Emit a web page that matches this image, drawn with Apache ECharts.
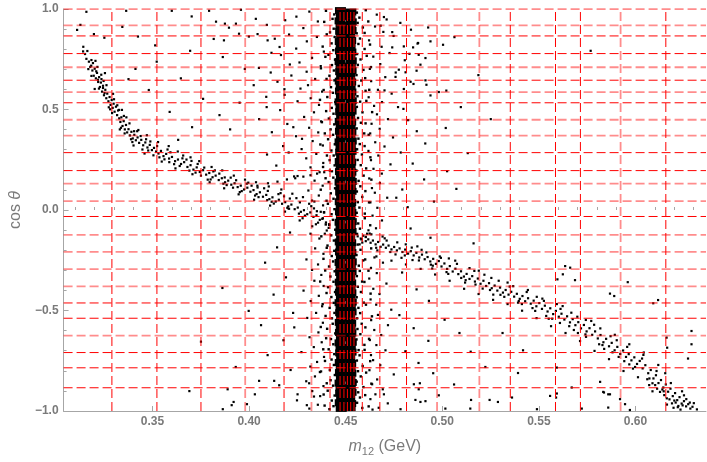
<!DOCTYPE html>
<html><head><meta charset="utf-8">
<script src="https://cdn.jsdelivr.net/npm/echarts@6/dist/echarts.min.js"></script>
<style>html,body{margin:0;padding:0;background:#fff}#c{width:707px;height:462px}</style>
</head><body><div id="c"></div>
<script>
// ---- tick labels ----
const xMajorTicks = [0.35, 0.40, 0.45, 0.50, 0.55, 0.60];
const xMinorTicks = [0.31,0.32,0.33,0.34,0.36,0.37,0.38,0.39,0.41,0.42,0.43,0.44,0.46,0.47,0.48,0.49,0.51,0.52,0.53,0.54,0.56,0.57,0.58,0.59,0.61,0.62,0.63];
const yTicks = [-1.0, -0.5, 0.0, 0.5, 1.0];

// ---- dashed reference lines (data units) ----
const hLinesStrong = [0.8660, 0.7782, 0.6457, 0.5335, 0.2854, 0.1960, -0.0323, -0.4625, -0.5385, -0.7092, -0.7851, -0.8844];
const hLinesLight  = [0.999, 0.9186, 0.7102, 0.5861, 0.4491, 0.3697, 0.1315, 0.0437, -0.1236, -0.2079, -0.2938, -0.3797, -0.6248];
const vLinesStrong = [0.3290, 0.3523, 0.3751, 0.4181, 0.4419, 0.4471, 0.4491, 0.4509, 0.4526, 0.4543, 0.4586, 0.4677, 0.4815, 0.5352, 0.5586, 0.5715, 0.6157];
const vLinesLight  = [0.3980, 0.4323, 0.4973, 0.5192, 0.5923];

// ---- dense core of the vertical band (m12 ~ 0.45) ----
const bandCore = [
[.4473,.992],[.4527,.985],[.4478,.963],[.4522,.968],[.4471,.941],[.4529,.936],[.4476,.914],[.4524,.919],
[.4474,.889],[.4528,.893],[.4479,.866],[.4521,.861],[.4472,.838],[.4526,.843],[.4477,.817],[.4523,.812],
[.4473,.791],[.4527,.786],[.4478,.764],[.4522,.769],[.4471,.739],[.4529,.742],[.4476,.716],[.4524,.711],
[.4474,.688],[.4528,.693],[.4479,.667],[.4521,.662],[.4472,.641],[.4526,.637],[.4477,.613],[.4523,.618],
[.4473,.592],[.4527,.587],[.4478,.564],[.4522,.568],[.4471,.538],[.4529,.543],[.4476,.516],[.4524,.512],
[.4474,.489],[.4528,.492],[.4479,.466],[.4521,.461],[.4472,.441],[.4526,.437],[.4477,.413],[.4523,.418],
[.4473,.392],[.4527,.388],[.4478,.364],[.4522,.367],[.4471,.339],[.4529,.343],[.4476,.316],[.4524,.312],
[.4474,.288],[.4528,.292],[.4479,.267],[.4521,.262],[.4472,.241],[.4526,.238],[.4477,.213],[.4523,.217],
[.4473,.191],[.4527,.188],[.4478,.164],[.4522,.168],[.4471,.139],[.4529,.142],[.4476,.116],[.4524,.112],
[.4474,.089],[.4528,.093],[.4479,.066],[.4521,.062],[.4472,.041],[.4526,.037],[.4477,.014],[.4523,.017],
[.4473,-.009],[.4527,-.012],[.4478,-.036],[.4522,-.033],[.4471,-.061],[.4529,-.058],[.4476,-.084],[.4524,-.088],
[.4474,-.111],[.4528,-.107],[.4479,-.134],[.4521,-.138],[.4472,-.159],[.4526,-.163],[.4477,-.187],[.4523,-.183],
[.4473,-.209],[.4527,-.212],[.4478,-.236],[.4522,-.233],[.4471,-.261],[.4529,-.258],[.4476,-.284],[.4524,-.288],
[.4474,-.311],[.4528,-.307],[.4479,-.334],[.4521,-.338],[.4472,-.359],[.4526,-.363],[.4477,-.387],[.4523,-.383],
[.4473,-.409],[.4527,-.412],[.4478,-.436],[.4522,-.433],[.4471,-.461],[.4529,-.458],[.4476,-.484],[.4524,-.488],
[.4474,-.511],[.4528,-.507],[.4479,-.534],[.4521,-.538],[.4472,-.559],[.4526,-.563],[.4477,-.587],[.4523,-.583],
[.4473,-.609],[.4527,-.612],[.4478,-.636],[.4522,-.633],[.4471,-.661],[.4529,-.658],[.4476,-.684],[.4524,-.688],
[.4474,-.711],[.4528,-.707],[.4479,-.734],[.4521,-.738],[.4472,-.759],[.4526,-.763],[.4477,-.787],[.4523,-.783],
[.4473,-.809],[.4527,-.812],[.4478,-.836],[.4522,-.833],[.4471,-.861],[.4529,-.858],[.4476,-.884],[.4524,-.888],
[.4474,-.911],[.4528,-.907],[.4479,-.934],[.4521,-.938],[.4472,-.959],[.4526,-.963],[.4477,-.987],[.4523,-.983]
];

// ---- halo around the band ----
const bandHalo = [
[.4441,.973],[.4432,.951],[.4438,.902],[.4419,.884],[.4443,.861],[.4427,.829],[.4436,.795],[.4411,.772],[.4445,.748],[.4429,.721],
[.4439,.694],[.4416,.668],[.4442,.645],[.4424,.611],[.4434,.583],[.4405,.562],[.4446,.537],[.4428,.508],[.4437,.479],[.4413,.455],
[.4441,.426],[.4422,.401],[.4435,.374],[.4409,.352],[.4444,.327],[.4426,.296],[.4438,.271],[.4417,.248],[.4443,.222],[.4429,.193],
[.4436,.161],[.4412,.139],[.4445,.108],[.4423,.083],[.4437,.056],[.4408,.031],[.4442,.004],[.4427,-.021],[.4434,-.049],[.4415,-.074],
[.4446,-.098],[.4425,-.126],[.4439,-.152],[.4406,-.177],[.4441,-.203],[.4428,-.229],[.4435,-.256],[.4414,-.281],[.4443,-.305],[.4421,-.331],
[.4437,-.357],[.4409,-.384],[.4445,-.408],[.4426,-.433],[.4438,-.462],[.4417,-.487],[.4442,-.512],[.4429,-.539],[.4433,-.566],[.4404,-.591],
[.4446,-.614],[.4424,-.642],[.4436,-.668],[.4412,-.693],[.4441,-.717],[.4427,-.744],[.4439,-.771],[.4418,-.796],[.4444,-.821],[.4422,-.847],
[.4435,-.874],[.4407,-.899],[.4443,-.923],[.4428,-.948],[.4437,-.976],[.4416,-.991],
[.4558,.982],[.4571,.957],[.4562,.931],[.4589,.908],[.4557,.879],[.4574,.853],[.4566,.826],[.4598,.801],[.4559,.776],[.4577,.749],
[.4563,.722],[.4592,.697],[.4556,.671],[.4581,.644],[.4568,.617],[.4603,.593],[.4561,.566],[.4575,.539],[.4558,.513],[.4587,.486],
[.4564,.458],[.4579,.434],[.4557,.406],[.4596,.381],[.4566,.355],[.4573,.328],[.4559,.302],[.4584,.276],[.4562,.249],[.4578,.223],
[.4556,.196],[.4593,.171],[.4567,.145],[.4576,.118],[.4558,.092],[.4586,.065],[.4563,.039],[.4571,.012],[.4557,-.014],[.4599,-.041],
[.4565,-.067],[.4574,-.093],[.4559,-.119],[.4582,-.146],[.4562,-.172],[.4577,-.198],[.4556,-.224],[.4591,-.251],[.4568,-.277],[.4573,-.303],
[.4558,-.329],[.4585,-.356],[.4563,-.382],[.4579,-.408],[.4557,-.434],[.4594,-.461],[.4566,-.487],[.4575,-.513],[.4559,-.539],[.4583,-.566],
[.4561,-.592],[.4576,-.618],[.4556,-.644],[.4597,-.671],[.4567,-.697],[.4572,-.723],[.4558,-.749],[.4588,-.776],[.4564,-.802],[.4578,-.828],
[.4557,-.854],[.4592,-.881],[.4565,-.907],[.4574,-.933],[.4559,-.959],[.4586,-.985],
[.4398,.991],[.4389,.936],[.4402,.874],[.4381,.813],[.4395,.762],[.4372,.705],[.4401,.652],[.4386,.597],[.4367,.548],[.4399,.492],
[.4377,.437],[.4392,.381],[.4369,.326],[.4403,.271],[.4383,.214],[.4396,.158],[.4371,.101],[.4401,.046],[.4388,-.012],[.4397,-.072],
[.4374,-.131],[.4402,-.188],[.4385,-.243],[.4394,-.301],[.4368,-.356],[.4401,-.413],[.4381,-.468],[.4396,-.527],[.4371,-.582],[.4399,-.638],
[.4384,-.693],[.4393,-.751],[.4367,-.806],[.4402,-.862],[.4386,-.918],[.4391,-.973],
[.4604,.994],[.4617,.938],[.4598,.881],[.4626,.823],[.4609,.767],[.4631,.711],[.4601,.656],[.4622,.598],[.4607,.543],[.4637,.487],
[.4603,.431],[.4619,.374],[.4598,.318],[.4628,.262],[.4606,.207],[.4633,.151],[.4602,.094],[.4621,.038],[.4599,-.018],[.4627,-.076],
[.4604,-.134],[.4632,-.191],[.4601,-.246],[.4618,-.302],[.4597,-.358],[.4629,-.416],[.4605,-.471],[.4636,-.529],[.4602,-.584],[.4621,-.641],
[.4598,-.696],[.4627,-.752],[.4606,-.809],[.4633,-.864],[.4601,-.921],[.4619,-.977]
];

// ---- wider cloud around the band ----
const bandCloud = [
[.4312,.987],[.4245,.962],[.4187,.944],[.4356,.938],[.4092,.921],[.4281,.905],[.4661,.972],[.4712,.948],[.4783,.931],[.4652,.913],
[.4838,.897],[.4695,.886],[.4207,.873],[.4351,.861],[.4133,.852],[.4299,.839],[.4748,.866],[.4621,.844],[.4872,.828],[.4686,.812],
[.4244,.803],[.4387,.788],[.4165,.771],[.4326,.757],[.4727,.781],[.4643,.763],[.4806,.745],[.4261,.734],[.4371,.716],[.4051,.707],
[.4298,.688],[.4679,.726],[.4625,.702],[.4759,.684],[.4219,.669],[.4342,.652],[.4147,.638],[.4305,.621],[.4705,.661],[.4632,.641],
[.4851,.627],[.4266,.604],[.4378,.589],[.4184,.573],[.4319,.556],[.4667,.598],[.4738,.579],[.4619,.561],[.4251,.541],[.4362,.523],
[.4091,.512],[.4688,.537],[.4647,.518],[.4799,.503],
[.4336,.486],[.4285,.463],[.4373,.441],[.4198,.428],[.4662,.476],[.4719,.452],[.4634,.429],[.4311,.409],[.4358,.386],[.4243,.367],
[.4676,.404],[.4627,.381],[.4745,.361],[.4329,.343],[.4382,.321],[.4272,.303],[.4653,.337],[.4701,.316],[.4618,.294],[.4348,.279],
[.4296,.257],[.4384,.234],[.4669,.271],[.4631,.248],[.4732,.227],[.4318,.212],[.4365,.188],[.4251,.169],[.4644,.205],[.4687,.181],
[.4622,.157],[.4339,.146],[.4381,.121],[.4677,.134],[.4636,.109],[.4307,.097],[.4361,.072],[.4651,.086],[.4715,.061],[.4326,.047],
[.4383,.023],[.4628,.038],[.4664,.011],[.4351,-.006],[.4639,-.028],[.4688,-.052],[.4379,-.044],[.4318,-.118],[.4364,-.142],[.4657,-.091],
[.4624,-.117],[.4342,-.191],[.4385,-.218],[.4297,-.246],[.4649,-.236],[.4693,-.262],[.4631,-.288],[.4357,-.271],[.4326,-.298],[.4374,-.323],
[.4661,-.314],[.4622,-.341],[.4711,-.366],[.4338,-.352],[.4386,-.378],[.4282,-.401],[.4643,-.392],[.4675,-.418],[.4629,-.445],[.4361,-.427],
[.4319,-.453],[.4378,-.479],[.4658,-.471],[.4736,-.496],
[.4347,-.512],[.4301,-.537],[.4382,-.561],[.4234,-.584],[.4667,-.522],[.4632,-.548],[.4719,-.573],[.4359,-.609],[.4313,-.633],[.4376,-.658],
[.4648,-.597],[.4684,-.622],[.4625,-.647],[.4335,-.682],[.4271,-.707],[.4388,-.731],[.4659,-.672],[.4706,-.698],[.4631,-.722],[.4352,-.756],
[.4317,-.779],[.4373,-.803],[.4642,-.747],[.4679,-.772],[.4623,-.797],[.4749,-.818],[.4341,-.828],[.4296,-.852],[.4385,-.876],[.4663,-.843],
[.4637,-.867],[.4692,-.892],[.4327,-.901],[.4368,-.926],[.4248,-.947],[.4654,-.917],[.4628,-.941],[.4718,-.962],[.4356,-.969],[.4312,-.988],
[.4671,-.984],[.4639,-.993]
];

// ---- diagonal branch ----
const diagonal = [
[.3142,.812],[.3151,.776],[.3158,.752],[.3163,.791],[.3171,.738],[.3178,.712],[.3184,.746],[.3189,.694],[.3196,.668],[.3201,.703],
[.3207,.655],[.3213,.682],[.3219,.637],[.3224,.661],[.3228,.612],[.3233,.634],[.3239,.589],[.3244,.618],[.3249,.571],[.3256,.598],
[.3261,.556],[.3266,.579],[.3272,.541],[.3278,.562],[.3283,.523],[.3289,.547],[.3294,.508],[.3299,.529],[.3304,.489],[.3311,.514],
[.3317,.472],[.3322,.495],[.3328,.456],[.3334,.438],[.3339,.461],[.3345,.418],[.3351,.442],[.3357,.401],[.3363,.423],[.3369,.386],
[.3376,.402],[.3383,.371],[.3391,.389],[.3398,.356],[.3406,.374],[.3414,.347],[.3423,.361],[.3431,.334],[.3442,.349],[.3452,.322],
[.3463,.336],[.3474,.311],[.3486,.324],[.3497,.298],[.3508,.309],[.3519,.291],[.3531,.281],[.3544,.294],[.3557,.268],[.3571,.279],
[.3586,.256],[.3601,.264],[.3617,.243],[.3632,.251],[.3648,.229],[.3664,.238],[.3681,.214],[.3697,.223],[.3712,.201],[.3729,.212],
[.3745,.189],[.3762,.198],[.3778,.176],[.3794,.184],[.3811,.163],[.3827,.171],[.3843,.149],[.3859,.158],[.3876,.138],[.3892,.146],
[.3908,.126],[.3925,.133],[.3941,.114],[.3957,.121],[.3974,.102],[.3991,.111],[.4007,.091],[.4023,.099],[.4039,.079],[.4056,.088],
[.4072,.066],[.4089,.075],[.4105,.054],[.4121,.063],[.4138,.042],[.4154,.051],[.4171,.031],[.4187,.039],[.4203,.018],[.4219,.027],
[.4236,.004],[.4252,.012],[.4268,-.009],[.4284,-.001],[.4301,-.021],[.4317,-.012],[.4333,-.034],[.4349,-.026],[.4366,-.049],[.4382,-.041],
[.4398,-.062],[.4414,-.071],
[.3192,.731],[.3247,.642],[.3301,.551],[.3352,.468],[.3405,.392],[.3467,.352],[.3524,.318],[.3593,.287],[.3655,.257],[.3702,.244],
[.3768,.211],[.3815,.192],[.3874,.162],[.3933,.148],[.3988,.131],[.4044,.112],[.4097,.095],[.4152,.079],[.4211,.057],[.4263,.038],
[.4322,.019],[.4371,-.009],[.3223,.604],[.3281,.501],[.3337,.409],[.3396,.338],[.3478,.296],[.3562,.252],[.3641,.219],[.3723,.186],
[.3801,.152],[.3884,.124],[.3962,.094],[.4049,.064],[.4128,.032],[.4207,.006],[.4289,-.028],[.4357,-.063],[.4412,-.089],
[.4043,.121],[.4098,.133],[.4147,.141],[.4196,.152],[.4239,.158],[.4281,.166],[.4318,.173],[.4352,.181],[.4389,.188],[.4418,.196],
[.3168,.701],[.3215,.712],[.3262,.621],[.3291,.482],[.3327,.498],[.3365,.461],[.3389,.352],[.3421,.392],[.3448,.301],[.3489,.341],
[.3536,.262],[.3578,.301],[.3612,.228],[.3659,.271],[.3691,.196],[.3734,.229],[.3786,.151],[.3823,.197],[.3867,.131],[.3905,.161],
[.3952,.089],[.3996,.136],[.4031,.072],[.4078,.108],[.4117,.041],[.4163,.084],[.4198,.011],[.4245,.059],[.4277,-.041],[.4311,.031],
[.4346,-.071],[.4388,-.011],[.4402,-.102],[.3184,.667],[.3236,.651],[.3318,.521],[.3356,.381],[.3439,.368],[.3505,.272],[.3587,.238],
[.3676,.251],[.3751,.171],[.3846,.181],[.3917,.111],[.4013,.121],[.4094,.049],[.4181,.068],[.4258,-.018],[.4336,.008],
[.3205,.742],[.3254,.681],[.3296,.578],[.3342,.498],[.3381,.431],[.3427,.398],[.3471,.372],[.3529,.338],[.3584,.318],[.3631,.291],
[.3697,.262],[.3742,.243],[.3806,.214],[.3861,.197],[.3921,.171],[.3979,.151],[.4036,.138],[.4102,.117],[.4167,.102],[.4224,.081],
[.4279,.064],[.4338,.042],[.3274,.511],[.3331,.401],[.3402,.321],[.3459,.281],[.3548,.241],[.3619,.207],[.3707,.178],[.3796,.138],
[.3871,.108],[.3946,.078],[.4026,.051],[.4109,.022],[.4186,-.008],[.4262,-.052],[.4327,-.081],[.4392,-.118],
[.4562,-.131],[.4578,-.142],[.4591,-.128],[.4604,-.155],[.4617,-.146],[.4629,-.163],[.4641,-.152],[.4655,-.171],[.4668,-.159],[.4681,-.183],
[.4694,-.172],[.4708,-.188],[.4722,-.177],[.4737,-.196],[.4751,-.184],[.4765,-.201],[.4779,-.191],[.4794,-.209],[.4808,-.197],[.4823,-.217],
[.4837,-.205],[.4852,-.226],[.4866,-.213],[.4881,-.236],[.4895,-.222],[.4909,-.245],[.4924,-.234],[.4938,-.256],[.4953,-.243],[.4967,-.268],
[.4982,-.254],[.4996,-.281],[.5011,-.266],[.5025,-.293],[.5039,-.279],[.5054,-.306],[.5068,-.292],[.5083,-.319],[.5097,-.305],[.5112,-.331],
[.5126,-.318],[.5141,-.343],[.5155,-.329],[.5169,-.356],[.5184,-.341],[.5198,-.367],[.5213,-.352],[.5227,-.378],[.5242,-.364],[.5256,-.389],
[.5271,-.376],[.5285,-.401],[.5299,-.386],[.5314,-.411],[.5328,-.398],[.5343,-.421],[.5357,-.407],[.5372,-.431],[.5386,-.417],[.5401,-.442],
[.5415,-.428],[.5429,-.454],[.5444,-.439],[.5458,-.466],[.5473,-.451],[.5487,-.479],[.5502,-.463],[.5516,-.492],[.5531,-.476],[.5545,-.505],
[.5559,-.489],[.5574,-.518],[.5588,-.502],[.5603,-.531],[.5617,-.516],[.5632,-.545],[.5646,-.529],[.5661,-.559],[.5675,-.543],[.5689,-.573],
[.5704,-.558],[.5718,-.589],[.5733,-.572],[.5747,-.604],[.5762,-.588],[.5776,-.621],[.5791,-.604],[.5805,-.639],[.5819,-.622],[.5834,-.658],
[.5848,-.641],[.5863,-.678],[.5877,-.661],[.5892,-.698],[.5906,-.681],[.5921,-.716],[.5936,-.699],[.5951,-.731],[.5965,-.717],[.5979,-.748],
[.5994,-.733],[.6008,-.766],[.6022,-.751],[.6037,-.788],[.6051,-.772],[.6066,-.812],[.6079,-.796],[.6093,-.838],[.6106,-.822],[.6119,-.861],
[.6132,-.846],[.6144,-.883],[.6157,-.868],[.6169,-.904],[.6181,-.889],[.6193,-.926],[.6205,-.911],[.6216,-.946],[.6228,-.931],[.6239,-.963],
[.6251,-.951],[.6262,-.977],[.6273,-.966],[.6284,-.988],[.6295,-.979],
[.4633,-.121],[.4712,-.152],[.4789,-.238],[.4871,-.181],[.4948,-.291],[.5034,-.241],[.5118,-.361],[.5189,-.302],[.5264,-.421],[.5338,-.361],
[.5412,-.468],[.5489,-.432],[.5551,-.541],[.5623,-.478],[.5702,-.612],[.5771,-.552],[.5838,-.691],[.5903,-.648],[.5968,-.768],[.6041,-.721],
[.6102,-.871],[.6154,-.812],[.6208,-.958],[.6241,-.902],[.6176,-.942],[.6222,-.975],[.6263,-.941],[.6189,-.962],[.6149,-.921],[.6127,-.905],
[.6233,-.993],[.6197,-.984],[.6112,-.889],[.6088,-.862],[.6302,-.961],[.6318,-.992],[.6061,-.842],[.5987,-.789],[.5942,-.752],[.5881,-.708],
[.5812,-.668],[.5744,-.631],[.5681,-.597],[.5609,-.562],[.5538,-.527],[.5467,-.488],[.5396,-.453],[.5321,-.432],[.5247,-.398],[.5172,-.371],
[.5098,-.338],[.5022,-.309],[.4951,-.277],[.4879,-.251],[.4806,-.226],[.4731,-.209],[.4658,-.188],[.4586,-.162],
[.4572,-.171],[.4611,-.118],[.4664,-.201],[.4702,-.141],[.4758,-.221],[.4811,-.171],[.4846,-.249],[.4893,-.198],[.4941,-.272],[.4987,-.231],
[.5031,-.318],[.5076,-.268],[.5121,-.349],[.5166,-.303],[.5209,-.391],[.5254,-.338],[.5301,-.422],[.5349,-.381],[.5392,-.461],[.5437,-.408],
[.5481,-.502],[.5526,-.452],[.5569,-.541],[.5612,-.492],[.5657,-.578],[.5699,-.531],[.5741,-.619],[.5786,-.571],[.5829,-.672],[.5871,-.628],
[.5913,-.731],[.5957,-.681],[.5998,-.781],[.6034,-.739],[.6072,-.838],[.6109,-.801],[.6146,-.902],[.6183,-.861],[.6219,-.981],[.6251,-.922],
[.6281,-.958],[.6162,-.937],[.6201,-.948],[.6244,-.972],[.6139,-.893],[.6071,-.871],
[.4618,-.101],[.4691,-.132],[.4767,-.161],[.4842,-.187],[.4918,-.211],[.4993,-.238],[.5067,-.252],[.5141,-.289],[.5218,-.322],[.5292,-.352],
[.5367,-.379],[.5443,-.398],[.5518,-.441],[.5593,-.468],[.5668,-.511],[.5743,-.547],[.5818,-.589],[.5893,-.621],[.5968,-.668],[.6043,-.709],
[.6118,-.771],[.4659,-.231],[.4737,-.252],[.4812,-.271],[.4888,-.293],[.4963,-.321],[.5038,-.352],[.5113,-.392],[.5188,-.418],[.5263,-.447],
[.5338,-.468],[.5413,-.501],[.5488,-.538],[.5563,-.578],[.5638,-.612],[.5713,-.652],[.5788,-.701],[.5863,-.742],[.5938,-.801],[.6013,-.832],
[.6088,-.902],[.6163,-.968]
];

// ---- sparse background events ----
const sparse = [
[.3158,.986],[.3364,.991],[.3600,.991],[.3703,.963],[.3793,.991],[.3958,.996],[.4035,.951],[.3829,.937],[.3875,.927],[.3932,.927],
[.3896,.907],[.3344,.911],[.3110,.896],[.3127,.921],[.3197,.875],[.3251,.857],[.3425,.863],[.3514,.819],[.3817,.851],[.3870,.844],
[.3948,.877],[.3999,.863],[.4044,.875],[.4096,.844],[.4116,.782],[.3695,.792],[.3864,.761],
[.4698,.960],[.4681,.917],[.4741,.885],[.4927,.908],[.5063,.860],[.4939,.839],[.5004,.822],[.4875,.831],[.4741,.809],[.4801,.814],
[.4849,.809],[.4830,.777],[.4878,.772],[.4913,.756],[.5768,.792],[.4887,.723],[.4775,.698],[.4867,.693],[.4810,.685],[.4758,.662],
[.4913,.645],[.4836,.638],[.4918,.623],[.4801,.602],[.4701,.595],[.4939,.570],[.4982,.587],[.5021,.594],
[.5636,-.279],[.5662,-.287],[.5596,-.345],[.5687,-.349],[.5624,-.320],[.5960,-.359],[.5868,-.416],[.5890,-.428],[.6117,-.448],[.6092,-.464],
[.6290,-.602],[.6290,-.668],[.6272,-.739],[.6161,-.635],[.6164,-.685],[.5593,-.784],[.5670,-.883],[.5593,-.913],[.5833,-.905],[.5859,-.917],
[.5920,-.941],[.5859,-.983],[.5971,-.995],[.5722,-.988],
[.4853,-.867],[.4884,-.862],[.4878,-.892],[.4861,-.945],[.4887,-.955],[.4913,-.951],[.4982,-.922],[.5016,-.988],[.5149,-.945],[.5245,-.945],
[.5288,-.955],[.5145,-.988],[.5361,-.933],[.5558,-.925],[.5589,-.933],[.5490,-.991],[.5817,-.855],[.5837,-.908],[.5868,-.917],[.5946,-.966],
[.4784,-.991],[.4698,-.917],
[.3889,-.892],[.3920,-.955],[.3910,-.971],[.3864,-.991],[.4030,-.917],[.3989,-.966],[.4052,-.850],[.4156,-.872],[.4130,-.850],[.4251,-.917],
[.4299,-.971],[.4311,-.862],[.4336,-.928],
[.3141,.789],[.3183,.718],[.3209,.690],[.3235,.673],[.3218,.648],[.3201,.602],[.3244,.607],[.3252,.582],
[.5025,.193],[.4793,.102],[.4836,-.092],[.4939,-.138],[.5162,-.166],
[.4052,.452],[.4118,.387],[.4176,.318],[.4093,.276],[.4141,.221],[.4205,.286],[.4229,.412],[.4161,.497],[.4089,.563],[.4024,.621],
[.3978,.702],[.4112,.684],[.4183,.601],[.3951,.534],[.3902,.401],[.3847,.472],[.3762,.553],[.3705,.412],[.3633,.349],[.3589,.488],
[.3481,.597],[.3412,.702],[.3376,.651],[.3522,.738],[.3647,.655],[.4771,.512],[.4823,.447],[.4868,.392],[.4912,.331],[.4785,.286],
[.4847,.231],[.4906,.152],[.4762,.061],[.4821,.014],[.4957,.042],[.5073,.105],[.5132,.283],[.5018,.408],[.5096,.512],[.5187,.671],
[.5251,.452],[.4792,-.311],[.4867,-.395],[.4931,-.452],[.4778,-.523],[.4852,-.588],[.4928,-.651],[.5012,-.546],[.5089,-.612],[.5147,-.705],
[.5223,-.781],[.4809,-.703],[.4877,-.761],[.4953,-.812],[.5061,-.868],[.5312,-.612],[.5418,-.698],[.5392,-.811],[.4212,-.112],[.4145,-.186],
[.4083,-.262],[.4191,-.335],[.4127,-.421],[.4228,-.512],[.4062,-.573],[.4178,-.648],[.4096,-.722],[.4215,-.796],[.3998,-.502],[.3931,-.781],
[.3862,-.388],[.3751,-.655],[.3691,-.901],[.4233,.167],[.4274,.354],[.4211,.724],[.4158,.811]
];

// ---- chart ----
const FONT = '"Liberation Sans", Arial, sans-serif';
const AX = '#a6a6a6';
const TXT = '#7a7a7a';
const X_MIN = 0.304, X_MAX = 0.6365, Y_MIN = -1, Y_MAX = 1;
const fmt = v => (v < 0 ? '\u2212' : '') + Math.abs(v).toFixed(1);

const strongStyle = {color: '#ff0000', width: 1, type: [9, 4]};
const lightStyle = {color: 'rgba(255,0,0,0.45)', width: 1.8, type: [9, 4]};
const refLine = (pts, style) => ({
  type: 'line', data: pts, symbol: 'none', showSymbol: false, silent: true, animation: false,
  lineStyle: style, z: 10, clip: true
});
const gridSeries = []
  .concat(hLinesLight.map(v => refLine([[X_MIN, v], [X_MAX, v]], lightStyle)))
  .concat(vLinesLight.map(v => refLine([[v, Y_MIN], [v, Y_MAX]], lightStyle)))
  .concat(hLinesStrong.map(v => refLine([[X_MIN, v], [X_MAX, v]], strongStyle)))
  .concat(vLinesStrong.map(v => refLine([[v, Y_MIN], [v, Y_MAX]], strongStyle)));

const dot = (data, size) => ({
  type: 'scatter', data: data, symbol: 'rect', symbolSize: size,
  itemStyle: {color: '#000', opacity: 1}, silent: true, animation: false, z: 2
});

const chart = echarts.init(document.getElementById('c'), null, {renderer: 'canvas'});
chart.setOption({
  animation: false,
  backgroundColor: '#fff',
  grid: {left: 62, right: 1, top: 9, bottom: 50},
  xAxis: [{
    type: 'value', min: X_MIN, max: X_MAX, position: 'bottom',
    axisLine: {show: true, onZero: false, lineStyle: {color: AX, width: 1}},
    axisTick: {show: true, inside: true, length: 5, customValues: xMajorTicks, lineStyle: {color: AX}},
    axisLabel: {show: true, customValues: xMajorTicks, formatter: v => v.toFixed(2), color: TXT,
      fontWeight: 'bold', fontSize: 12, fontFamily: FONT, margin: 5},
    splitLine: {show: false},
    name: '{i|m}{s|12} {n|(GeV)}', nameLocation: 'middle', nameGap: 26,
    nameTextStyle: {color: TXT, fontSize: 16, fontFamily: FONT,
      rich: {i: {fontStyle: 'italic', fontSize: 16, color: TXT, fontFamily: FONT},
             s: {fontSize: 11, color: TXT, fontFamily: FONT, padding: [9, 0, 0, 0]},
             n: {fontSize: 16, color: TXT, fontFamily: FONT}}}
  }, {
    type: 'value', min: X_MIN, max: X_MAX, position: 'bottom',
    axisLine: {show: false},
    axisTick: {show: true, inside: true, length: 3, customValues: xMinorTicks, lineStyle: {color: AX}},
    axisLabel: {show: false},
    splitLine: {show: false}
  }],
  yAxis: {
    type: 'value', min: Y_MIN, max: Y_MAX, interval: 0.5,
    axisLine: {show: true, onZero: false, lineStyle: {color: AX, width: 1}},
    axisTick: {show: true, inside: true, length: 5, lineStyle: {color: AX}},
    minorTick: {show: true, splitNumber: 5, length: 3, lineStyle: {color: AX}},
    axisLabel: {formatter: fmt, color: TXT, fontWeight: 'bold', fontSize: 12, fontFamily: FONT, margin: 5},
    splitLine: {show: false},
    name: '{n|cos }{i|\u03b8}', nameLocation: 'middle', nameGap: 31, nameRotate: 90,
    nameTextStyle: {color: TXT, fontSize: 16, fontFamily: FONT,
      rich: {n: {fontSize: 16, color: TXT, fontFamily: FONT},
             i: {fontSize: 16, fontStyle: 'italic', color: TXT, fontFamily: FONT}}}
  },
  series: [
    dot(sparse, 2.2),
    dot(bandCloud, 2.2),
    dot(bandHalo, 2.4),
    dot(diagonal, 2.2),
    dot(bandCore, [11, 7])
  ].concat(gridSeries)
});
</script>
</body></html>
